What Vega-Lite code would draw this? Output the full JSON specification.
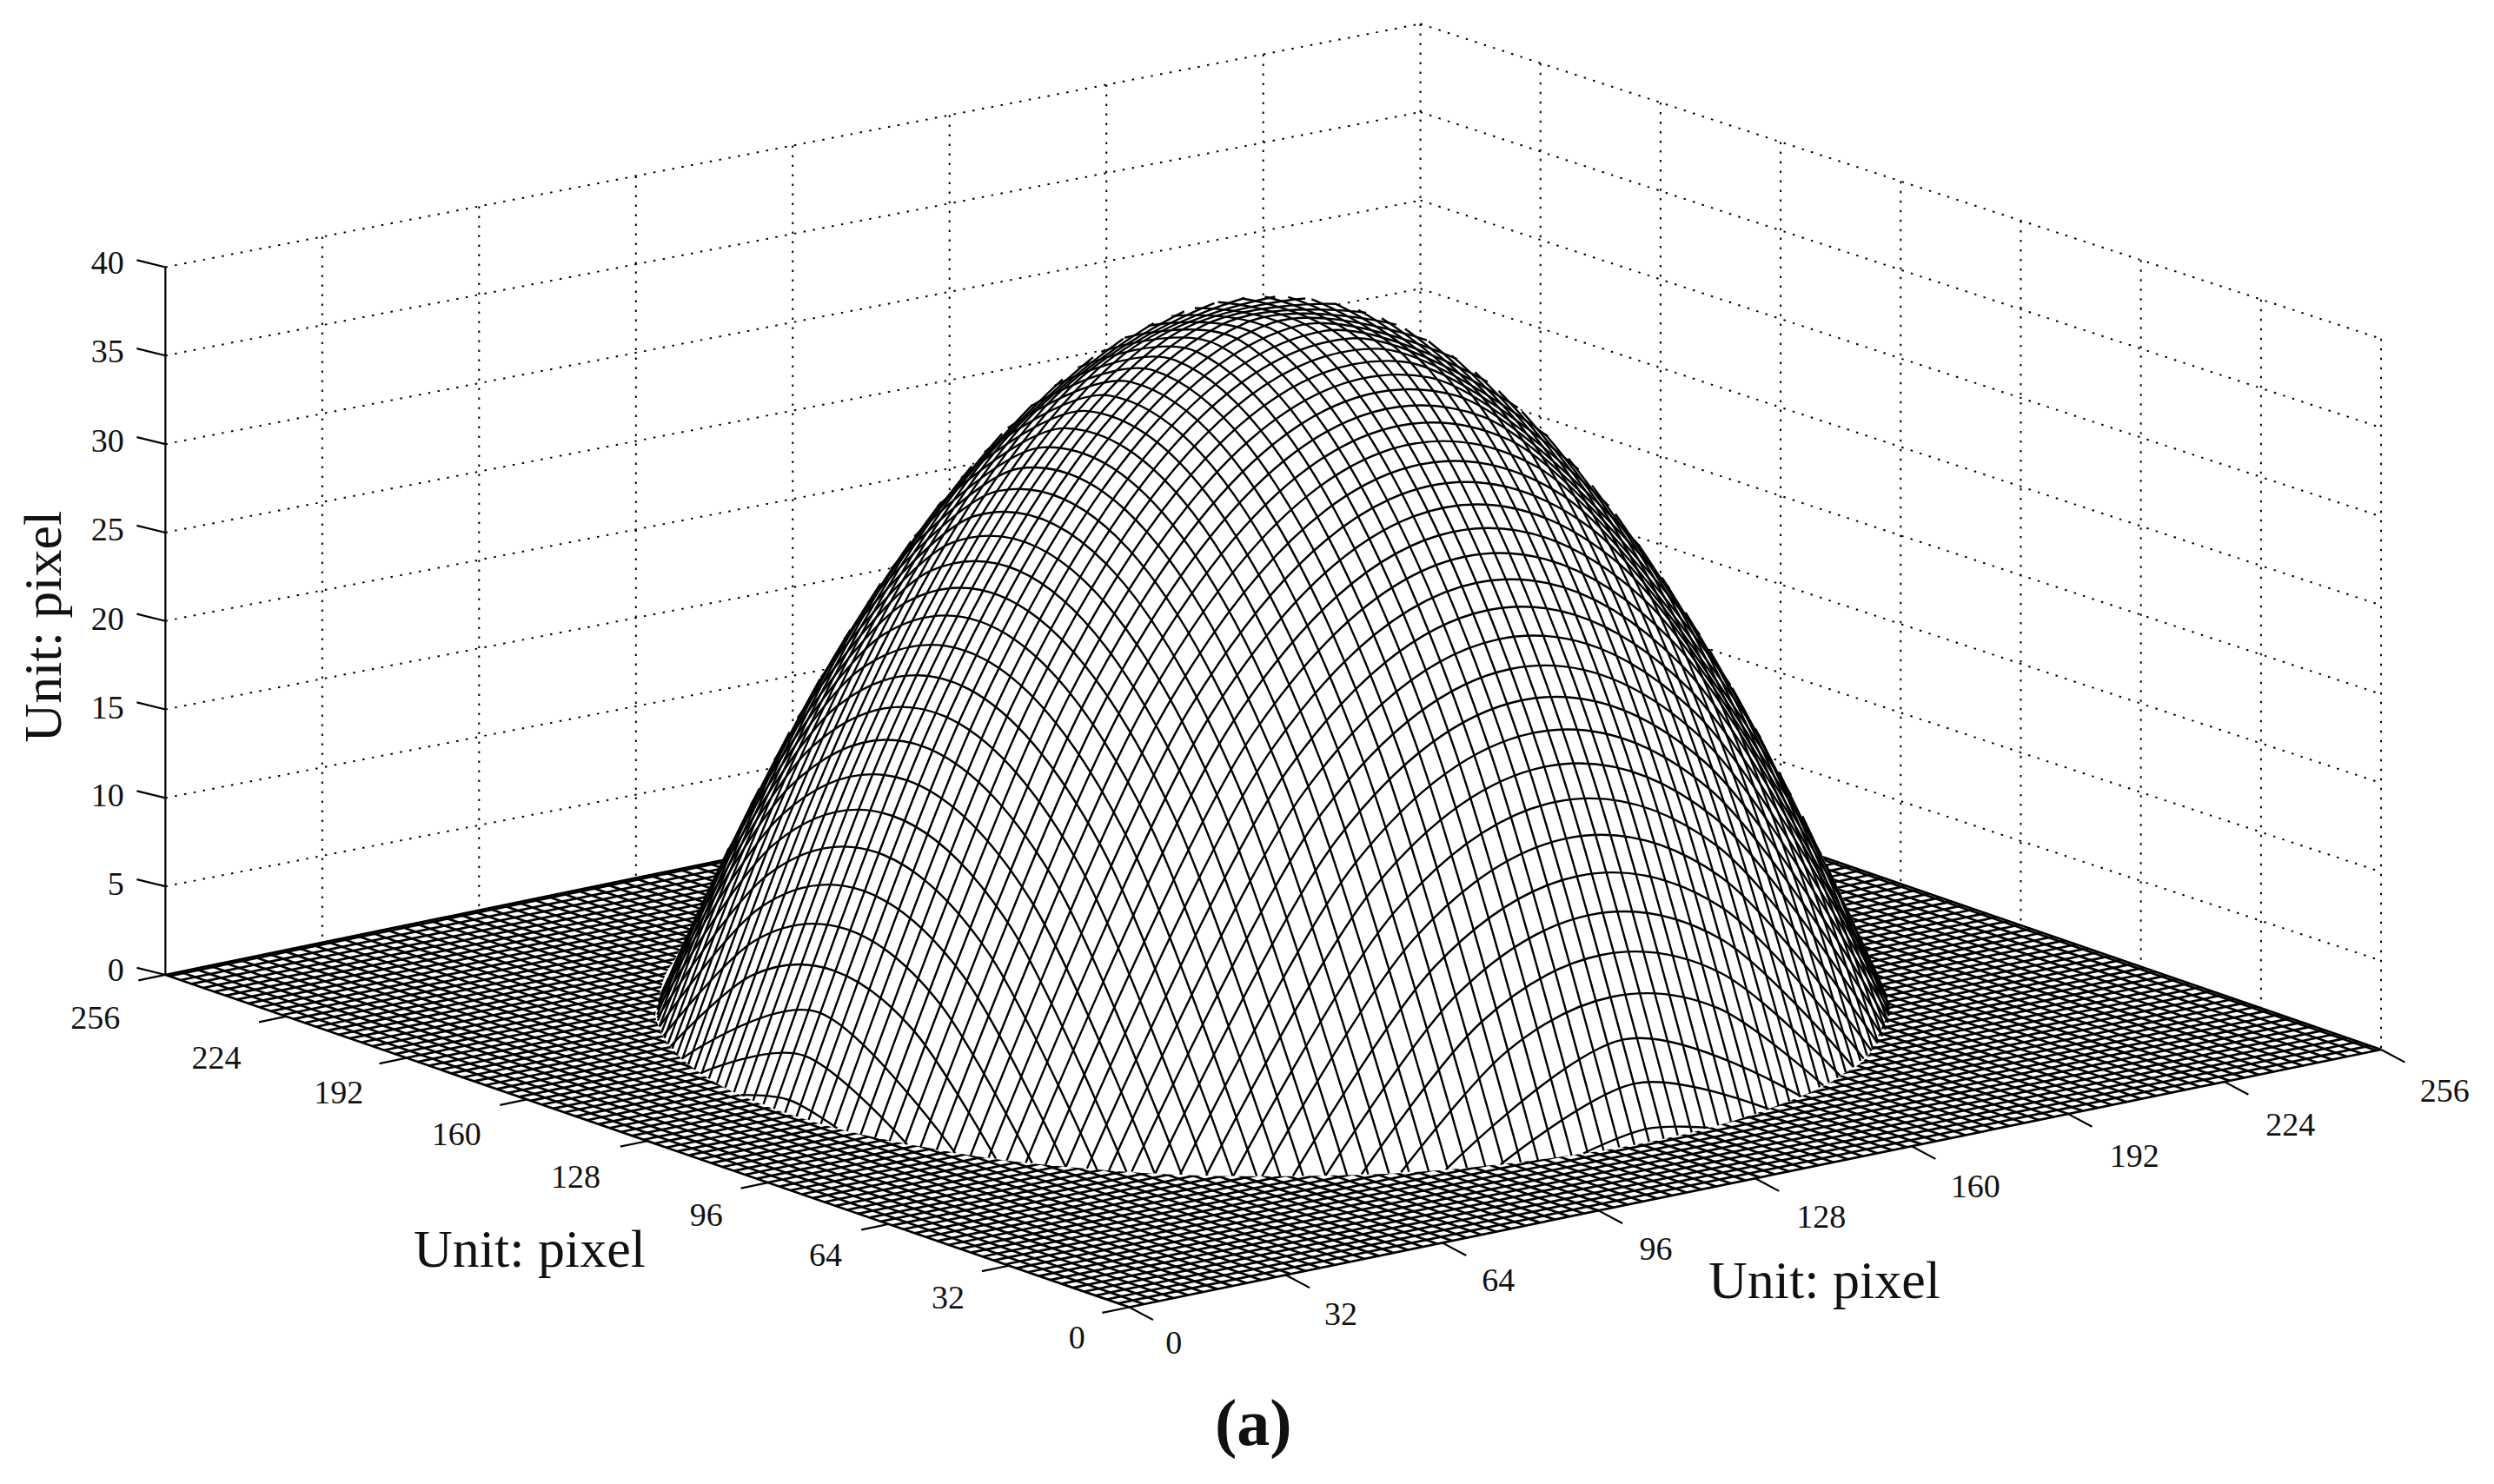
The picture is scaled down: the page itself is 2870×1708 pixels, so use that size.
{
"$schema":"https://vega.github.io/schema/vega-lite/v6.json",
"width":2870,"height":1708,
"autosize":{"type":"fit","contains":"padding"},
"padding":0,
"background":"white",
"config":{"view":{"stroke":null}},
"datasets":{
"walls":[
{"x":104,"y":168,"x2":893,"y2":15},{"x":104,"y":223.6,"x2":893,"y2":70.5},{"x":104,"y":279.3,"x2":893,"y2":126},{"x":104,"y":334.9,"x2":893,"y2":181.5},{"x":104,"y":390.5,"x2":893,"y2":237},{"x":104,"y":446.1,"x2":893,"y2":292.5},{"x":104,"y":501.8,"x2":893,"y2":348},{"x":104,"y":557.4,"x2":893,"y2":403.5},
{"x":893,"y":15,"x2":1497,"y2":213},{"x":893,"y":70.5,"x2":1497,"y2":268.9},{"x":893,"y":126,"x2":1497,"y2":324.8},{"x":893,"y":181.5,"x2":1497,"y2":380.6},{"x":893,"y":237,"x2":1497,"y2":436.5},{"x":893,"y":292.5,"x2":1497,"y2":492.4},{"x":893,"y":348,"x2":1497,"y2":548.3},{"x":893,"y":403.5,"x2":1497,"y2":604.1},
{"x":202.6,"y":148.9,"x2":202.6,"y2":592.8},{"x":301.2,"y":129.8,"x2":301.2,"y2":572.5},{"x":399.8,"y":110.7,"x2":399.8,"y2":552.3},{"x":498.4,"y":91.5,"x2":498.4,"y2":532},{"x":597,"y":72.4,"x2":597,"y2":511.8},{"x":695.6,"y":53.3,"x2":695.6,"y2":491.5},{"x":794.2,"y":34.1,"x2":794.2,"y2":471.3},
{"x":893,"y":15,"x2":893,"y2":455},
{"x":968.5,"y":39.8,"x2":968.5,"y2":477.3},{"x":1044,"y":64.5,"x2":1044,"y2":503.4},{"x":1119.5,"y":89.3,"x2":1119.5,"y2":529.5},{"x":1195,"y":114,"x2":1195,"y2":555.6},{"x":1270.5,"y":138.8,"x2":1270.5,"y2":581.7},{"x":1346,"y":163.5,"x2":1346,"y2":607.8},{"x":1421.5,"y":188.3,"x2":1421.5,"y2":633.9},{"x":1497,"y":213,"x2":1497,"y2":660}
],
"floor":[
{"x":710,"y":822,"x2":104,"y2":613},{"x":719.2,"y":820.1,"x2":113.2,"y2":611.1},{"x":728.4,"y":818.2,"x2":122.4,"y2":609.2},{"x":737.7,"y":816.3,"x2":131.7,"y2":607.3},{"x":746.9,"y":814.4,"x2":140.9,"y2":605.4},{"x":756.1,"y":812.5,"x2":150.1,"y2":603.5},{"x":765.3,"y":810.6,"x2":159.3,"y2":601.6},{"x":774.6,"y":808.7,"x2":168.6,"y2":599.7},{"x":783.8,"y":806.8,"x2":177.8,"y2":597.8},{"x":793,"y":804.9,"x2":187,"y2":595.9},{"x":802.2,"y":803,"x2":196.2,"y2":594},{"x":811.5,"y":801.1,"x2":205.5,"y2":592.1},{"x":820.7,"y":799.2,"x2":214.7,"y2":590.2},{"x":829.9,"y":797.3,"x2":223.9,"y2":588.3},{"x":839.1,"y":795.4,"x2":233.1,"y2":586.4},{"x":848.3,"y":793.5,"x2":242.3,"y2":584.5},{"x":857.6,"y":791.6,"x2":251.6,"y2":582.6},{"x":866.8,"y":789.7,"x2":260.8,"y2":580.7},{"x":876,"y":787.8,"x2":270,"y2":578.8},{"x":885.2,"y":785.9,"x2":279.2,"y2":576.9},{"x":894.5,"y":784,"x2":288.5,"y2":575},{"x":903.7,"y":782.1,"x2":297.7,"y2":573.1},{"x":912.9,"y":780.2,"x2":306.9,"y2":571.2},{"x":922.1,"y":778.3,"x2":316.1,"y2":569.3},{"x":931.3,"y":776.4,"x2":325.3,"y2":567.4},{"x":940.6,"y":774.5,"x2":334.6,"y2":565.5},{"x":949.8,"y":772.6,"x2":343.8,"y2":563.6},{"x":959,"y":770.7,"x2":353,"y2":561.7},{"x":968.2,"y":768.8,"x2":362.2,"y2":559.8},{"x":977.5,"y":766.9,"x2":371.5,"y2":557.9},{"x":986.7,"y":765,"x2":380.7,"y2":556},{"x":995.9,"y":763.1,"x2":389.9,"y2":554.1},{"x":1005.1,"y":761.3,"x2":399.1,"y2":552.3},{"x":1014.3,"y":759.4,"x2":408.3,"y2":550.4},{"x":1023.6,"y":757.5,"x2":417.6,"y2":548.5},{"x":1032.8,"y":755.6,"x2":426.8,"y2":546.6},{"x":1042,"y":753.7,"x2":436,"y2":544.7},{"x":1051.2,"y":751.8,"x2":445.2,"y2":542.8},{"x":1060.5,"y":749.9,"x2":454.5,"y2":540.9},{"x":1069.7,"y":748,"x2":463.7,"y2":539},{"x":1078.9,"y":746.1,"x2":472.9,"y2":537.1},{"x":1088.1,"y":744.2,"x2":482.1,"y2":535.2},{"x":1097.4,"y":742.3,"x2":491.4,"y2":533.3},{"x":1106.6,"y":740.4,"x2":500.6,"y2":531.4},{"x":1115.8,"y":738.5,"x2":509.8,"y2":529.5},{"x":1125,"y":736.6,"x2":519,"y2":527.6},{"x":1134.2,"y":734.7,"x2":528.2,"y2":525.7},{"x":1143.5,"y":732.8,"x2":537.5,"y2":523.8},{"x":1152.7,"y":730.9,"x2":546.7,"y2":521.9},{"x":1161.9,"y":729,"x2":555.9,"y2":520},{"x":1171.1,"y":727.1,"x2":565.1,"y2":518.1},{"x":1180.4,"y":725.2,"x2":574.4,"y2":516.2},{"x":1189.6,"y":723.3,"x2":583.6,"y2":514.3},{"x":1198.8,"y":721.4,"x2":592.8,"y2":512.4},{"x":1208,"y":719.5,"x2":602,"y2":510.5},{"x":1217.2,"y":717.6,"x2":611.2,"y2":508.6},{"x":1226.5,"y":715.7,"x2":620.5,"y2":506.7},{"x":1235.7,"y":713.8,"x2":629.7,"y2":504.8},{"x":1244.9,"y":711.9,"x2":638.9,"y2":502.9},{"x":1254.1,"y":710,"x2":648.1,"y2":501},{"x":1263.4,"y":708.1,"x2":657.4,"y2":499.1},{"x":1272.6,"y":706.2,"x2":666.6,"y2":497.2},{"x":1281.8,"y":704.3,"x2":675.8,"y2":495.3},{"x":1291,"y":702.4,"x2":685,"y2":493.4},{"x":1300.3,"y":700.5,"x2":694.3,"y2":491.5},{"x":1309.5,"y":698.6,"x2":703.5,"y2":489.6},{"x":1318.7,"y":696.7,"x2":712.7,"y2":487.7},{"x":1327.9,"y":694.8,"x2":721.9,"y2":485.8},{"x":1337.1,"y":692.9,"x2":731.1,"y2":483.9},{"x":1346.4,"y":691,"x2":740.4,"y2":482},{"x":1355.6,"y":689.1,"x2":749.6,"y2":480.1},{"x":1364.8,"y":687.2,"x2":758.8,"y2":478.2},{"x":1374,"y":685.3,"x2":768,"y2":476.3},{"x":1383.3,"y":683.4,"x2":777.3,"y2":474.4},{"x":1392.5,"y":681.5,"x2":786.5,"y2":472.5},{"x":1401.7,"y":679.6,"x2":795.7,"y2":470.6},{"x":1410.9,"y":677.7,"x2":804.9,"y2":468.7},{"x":1420.1,"y":675.8,"x2":814.1,"y2":466.8},{"x":1429.4,"y":673.9,"x2":823.4,"y2":464.9},{"x":1438.6,"y":672,"x2":832.6,"y2":463},{"x":1447.8,"y":670.1,"x2":841.8,"y2":461.1},{"x":1457,"y":668.2,"x2":851,"y2":459.2},{"x":1466.3,"y":666.3,"x2":860.3,"y2":457.3},{"x":1475.5,"y":664.4,"x2":869.5,"y2":455.4},{"x":1484.7,"y":662.5,"x2":878.7,"y2":453.5},{"x":1493.9,"y":660.6,"x2":887.9,"y2":451.6},{"x":1497,"y":660,"x2":891,"y2":451},
{"x":710,"y":822,"x2":1497,"y2":660},{"x":702.9,"y":819.6,"x2":1489.9,"y2":657.6},{"x":695.8,"y":817.1,"x2":1482.8,"y2":655.1},{"x":688.7,"y":814.7,"x2":1475.7,"y2":652.7},{"x":681.6,"y":812.2,"x2":1468.6,"y2":650.2},{"x":674.5,"y":809.8,"x2":1461.5,"y2":647.8},{"x":667.4,"y":807.3,"x2":1454.4,"y2":645.3},{"x":660.3,"y":804.9,"x2":1447.3,"y2":642.9},{"x":653.2,"y":802.4,"x2":1440.2,"y2":640.4},{"x":646.1,"y":800,"x2":1433.1,"y2":638},{"x":639,"y":797.5,"x2":1426,"y2":635.5},{"x":631.9,"y":795.1,"x2":1418.9,"y2":633.1},{"x":624.8,"y":792.6,"x2":1411.8,"y2":630.6},{"x":617.7,"y":790.2,"x2":1404.7,"y2":628.2},{"x":610.6,"y":787.7,"x2":1397.6,"y2":625.7},{"x":603.5,"y":785.3,"x2":1390.5,"y2":623.3},{"x":596.4,"y":782.8,"x2":1383.4,"y2":620.8},{"x":589.3,"y":780.4,"x2":1376.3,"y2":618.4},{"x":582.2,"y":777.9,"x2":1369.2,"y2":615.9},{"x":575.1,"y":775.5,"x2":1362.1,"y2":613.5},{"x":568,"y":773,"x2":1355,"y2":611},{"x":560.9,"y":770.6,"x2":1347.9,"y2":608.6},{"x":553.8,"y":768.1,"x2":1340.8,"y2":606.1},{"x":546.7,"y":765.7,"x2":1333.7,"y2":603.7},{"x":539.6,"y":763.2,"x2":1326.6,"y2":601.2},{"x":532.5,"y":760.8,"x2":1319.5,"y2":598.8},{"x":525.4,"y":758.3,"x2":1312.4,"y2":596.3},{"x":518.3,"y":755.9,"x2":1305.3,"y2":593.9},{"x":511.2,"y":753.4,"x2":1298.2,"y2":591.4},{"x":504.1,"y":751,"x2":1291.1,"y2":589},{"x":497,"y":748.5,"x2":1284,"y2":586.5},{"x":489.9,"y":746.1,"x2":1276.9,"y2":584.1},{"x":482.7,"y":743.6,"x2":1269.7,"y2":581.6},{"x":475.6,"y":741.2,"x2":1262.6,"y2":579.2},{"x":468.5,"y":738.7,"x2":1255.5,"y2":576.7},{"x":461.4,"y":736.3,"x2":1248.4,"y2":574.3},{"x":454.3,"y":733.8,"x2":1241.3,"y2":571.8},{"x":447.2,"y":731.4,"x2":1234.2,"y2":569.4},{"x":440.1,"y":728.9,"x2":1227.1,"y2":566.9},{"x":433,"y":726.5,"x2":1220,"y2":564.5},{"x":425.9,"y":724,"x2":1212.9,"y2":562},{"x":418.8,"y":721.6,"x2":1205.8,"y2":559.6},{"x":411.7,"y":719.1,"x2":1198.7,"y2":557.1},{"x":404.6,"y":716.7,"x2":1191.6,"y2":554.7},{"x":397.5,"y":714.2,"x2":1184.5,"y2":552.2},{"x":390.4,"y":711.8,"x2":1177.4,"y2":549.8},{"x":383.3,"y":709.3,"x2":1170.3,"y2":547.3},{"x":376.2,"y":706.9,"x2":1163.2,"y2":544.9},{"x":369.1,"y":704.4,"x2":1156.1,"y2":542.4},{"x":362,"y":702,"x2":1149,"y2":540},{"x":354.9,"y":699.5,"x2":1141.9,"y2":537.5},{"x":347.8,"y":697.1,"x2":1134.8,"y2":535.1},{"x":340.7,"y":694.6,"x2":1127.7,"y2":532.6},{"x":333.6,"y":692.2,"x2":1120.6,"y2":530.2},{"x":326.5,"y":689.7,"x2":1113.5,"y2":527.7},{"x":319.4,"y":687.3,"x2":1106.4,"y2":525.3},{"x":312.3,"y":684.8,"x2":1099.3,"y2":522.8},{"x":305.2,"y":682.4,"x2":1092.2,"y2":520.4},{"x":298.1,"y":679.9,"x2":1085.1,"y2":517.9},{"x":291,"y":677.5,"x2":1078,"y2":515.5},{"x":283.9,"y":675,"x2":1070.9,"y2":513},{"x":276.8,"y":672.6,"x2":1063.8,"y2":510.6},{"x":269.7,"y":670.1,"x2":1056.7,"y2":508.1},{"x":262.6,"y":667.7,"x2":1049.6,"y2":505.7},{"x":255.5,"y":665.2,"x2":1042.5,"y2":503.2},{"x":248.4,"y":662.8,"x2":1035.4,"y2":500.8},{"x":241.3,"y":660.4,"x2":1028.3,"y2":498.4},{"x":234.2,"y":657.9,"x2":1021.2,"y2":495.9},{"x":227.1,"y":655.5,"x2":1014.1,"y2":493.5},{"x":220,"y":653,"x2":1007,"y2":491},{"x":212.9,"y":650.6,"x2":999.9,"y2":488.6},{"x":205.8,"y":648.1,"x2":992.8,"y2":486.1},{"x":198.7,"y":645.7,"x2":985.7,"y2":483.7},{"x":191.6,"y":643.2,"x2":978.6,"y2":481.2},{"x":184.5,"y":640.8,"x2":971.5,"y2":478.8},{"x":177.4,"y":638.3,"x2":964.4,"y2":476.3},{"x":170.3,"y":635.9,"x2":957.3,"y2":473.9},{"x":163.2,"y":633.4,"x2":950.2,"y2":471.4},{"x":156.1,"y":631,"x2":943.1,"y2":469},{"x":149,"y":628.5,"x2":936,"y2":466.5},{"x":141.9,"y":626.1,"x2":928.9,"y2":464.1},{"x":134.8,"y":623.6,"x2":921.8,"y2":461.6},{"x":127.7,"y":621.2,"x2":914.7,"y2":459.2},{"x":120.6,"y":618.7,"x2":907.6,"y2":456.7},{"x":113.5,"y":616.3,"x2":900.5,"y2":454.3},{"x":106.4,"y":613.8,"x2":893.4,"y2":451.8},{"x":104,"y":613,"x2":891,"y2":451}
],
"dome":[
{"x":412,"y":638,"y2":640},{"x":416,"y":620,"y2":650},{"x":425,"y":602,"y2":662},{"x":440,"y":571.7,"y2":674.5},{"x":472,"y":506,"y2":691.5},{"x":511,"y":434.4,"y2":705.4},{"x":550,"y":371.9,"y2":715.2},{"x":590,"y":318,"y2":723},{"x":629,"y":273.9,"y2":729.3},{"x":668,"y":238.7,"y2":733.5},{"x":707,"y":212.4,"y2":736.8},{"x":746,"y":195.2,"y2":739},{"x":785,"y":187.3,"y2":739.7},{"x":805,"y":186.6,"y2":739.7},{"x":844,"y":192.1,"y2":739},{"x":884,"y":207,"y2":737.4},{"x":922,"y":230.4,"y2":734.4},{"x":962,"y":263.3,"y2":730},{"x":1001,"y":305.2,"y2":724.5},{"x":1040,"y":356.2,"y2":717.5},{"x":1079,"y":416.2,"y2":708},{"x":1118,"y":485.3,"y2":695},{"x":1158,"y":563.5,"y2":676},{"x":1177,"y":606,"y2":660},{"x":1186,"y":628,"y2":640},{"x":1188,"y":637,"y2":637}
],
"mesh":[
{"l":"a-33","x":526.4,"y":709.5},{"l":"a-33","x":496.1,"y":691.7},{"l":"a-33","x":465.8,"y":688.5},
{"l":"a-32","x":570.4,"y":719.7},{"l":"a-32","x":505.4,"y":663.8},{"l":"a-32","x":440.4,"y":674.9},
{"l":"a-31","x":600.6,"y":725.1},{"l":"a-31","x":514.6,"y":636.6},{"l":"a-31","x":428.6,"y":665.7},
{"l":"a-30","x":626.1,"y":728.6},{"l":"a-30","x":574.9,"y":648.6},{"l":"a-30","x":523.8,"y":610.2},{"l":"a-30","x":472.7,"y":613.4},{"l":"a-30","x":421.5,"y":658},
{"l":"a-29","x":648.9,"y":731.4},{"l":"a-29","x":591,"y":631.3},{"l":"a-29","x":533,"y":584.6},{"l":"a-29","x":475,"y":591.3},{"l":"a-29","x":417.1,"y":651.4},
{"l":"a-28","x":670,"y":733.8},{"l":"a-28","x":606.2,"y":614.5},{"l":"a-28","x":542.3,"y":560},{"l":"a-28","x":478.4,"y":570.4},{"l":"a-28","x":414.6,"y":645.6},
{"l":"a-27","x":689.7,"y":735.5},{"l":"a-27","x":620.6,"y":597.9},{"l":"a-27","x":551.5,"y":536.1},{"l":"a-27","x":482.4,"y":550.3},{"l":"a-27","x":413.3,"y":640},
{"l":"a-26","x":708.2,"y":736.8},{"l":"a-26","x":634.5,"y":581.5},{"l":"a-26","x":560.7,"y":512.9},{"l":"a-26","x":486.9,"y":530.7},{"l":"a-26","x":413.2,"y":635},
{"l":"a-25","x":725.9,"y":737.7},{"l":"a-25","x":647.9,"y":565.9},{"l":"a-25","x":569.9,"y":490.6},{"l":"a-25","x":491.9,"y":512.1},{"l":"a-25","x":413.9,"y":630.1},
{"l":"a-24","x":742.9,"y":738.6},{"l":"a-24","x":661.1,"y":550.6},{"l":"a-24","x":579.2,"y":469},{"l":"a-24","x":497.3,"y":494},{"l":"a-24","x":415.5,"y":625.6},
{"l":"a-23","x":759.2,"y":739.1},{"l":"a-23","x":676.5,"y":540.3},{"l":"a-23","x":593.6,"y":450.3},{"l":"a-23","x":510.8,"y":469.4},{"l":"a-23","x":428,"y":597.5},
{"l":"a-22","x":775,"y":739.5},{"l":"a-22","x":691.9,"y":531.4},{"l":"a-22","x":608.8,"y":433.2},{"l":"a-22","x":525.7,"y":444.6},{"l":"a-22","x":442.6,"y":565.8},
{"l":"a-21","x":790.1,"y":739.5},{"l":"a-21","x":706.9,"y":523.3},{"l":"a-21","x":623.7,"y":417.3},{"l":"a-21","x":540.4,"y":421.3},{"l":"a-21","x":457.3,"y":535.3},
{"l":"a-20","x":804.9,"y":739.7},{"l":"a-20","x":721.7,"y":516},{"l":"a-20","x":638.4,"y":402.5},{"l":"a-20","x":555.2,"y":399.2},{"l":"a-20","x":472,"y":506},
{"l":"a-19","x":819.3,"y":739.4},{"l":"a-19","x":736.2,"y":509.2},{"l":"a-19","x":653,"y":389},{"l":"a-19","x":569.9,"y":378.6},{"l":"a-19","x":486.8,"y":478},
{"l":"a-18","x":833.3,"y":739.2},{"l":"a-18","x":750.3,"y":503.1},{"l":"a-18","x":667.4,"y":376.5},{"l":"a-18","x":584.3,"y":359.3},{"l":"a-18","x":501.4,"y":451.6},
{"l":"a-17","x":846.9,"y":739},{"l":"a-17","x":764.2,"y":497.7},{"l":"a-17","x":681.5,"y":365},{"l":"a-17","x":598.8,"y":341.2},{"l":"a-17","x":516.1,"y":426.2},
{"l":"a-16","x":860.2,"y":738.5},{"l":"a-16","x":777.8,"y":492.6},{"l":"a-16","x":695.5,"y":354.6},{"l":"a-16","x":613.1,"y":324.4},{"l":"a-16","x":530.7,"y":402},
{"l":"a-15","x":873.2,"y":737.8},{"l":"a-15","x":791.3,"y":488.1},{"l":"a-15","x":709.4,"y":345.2},{"l":"a-15","x":627.4,"y":308.8},{"l":"a-15","x":545.5,"y":379.2},
{"l":"a-14","x":885.8,"y":736.9},{"l":"a-14","x":804.3,"y":484.1},{"l":"a-14","x":722.9,"y":336.6},{"l":"a-14","x":641.5,"y":294.5},{"l":"a-14","x":560.1,"y":357.7},
{"l":"a-13","x":898.2,"y":736.5},{"l":"a-13","x":817.3,"y":480.8},{"l":"a-13","x":736.5,"y":329.1},{"l":"a-13","x":655.7,"y":281.3},{"l":"a-13","x":574.8,"y":337.4},
{"l":"a-12","x":910.2,"y":735.3},{"l":"a-12","x":830,"y":477.7},{"l":"a-12","x":749.9,"y":322.4},{"l":"a-12","x":669.7,"y":269.3},{"l":"a-12","x":589.5,"y":318.3},
{"l":"a-11","x":922.2,"y":734.4},{"l":"a-11","x":842.7,"y":475.4},{"l":"a-11","x":763.3,"y":316.8},{"l":"a-11","x":683.8,"y":258.5},{"l":"a-11","x":604.3,"y":300.6},
{"l":"a-10","x":933.8,"y":733.4},{"l":"a-10","x":855.1,"y":473.4},{"l":"a-10","x":776.4,"y":311.9},{"l":"a-10","x":697.7,"y":248.8},{"l":"a-10","x":618.9,"y":284.3},
{"l":"a-9","x":945,"y":732.1},{"l":"a-9","x":867.2,"y":471.8},{"l":"a-9","x":789.4,"y":308},{"l":"a-9","x":711.4,"y":240.3},{"l":"a-9","x":633.6,"y":269.1},
{"l":"a-8","x":956.1,"y":730.9},{"l":"a-8","x":879.2,"y":470.7},{"l":"a-8","x":802.3,"y":304.9},{"l":"a-8","x":725.3,"y":232.9},{"l":"a-8","x":648.3,"y":255.3},
{"l":"a-7","x":966.9,"y":729.4},{"l":"a-7","x":890.9,"y":469.9},{"l":"a-7","x":815,"y":302.4},{"l":"a-7","x":738.9,"y":226.5},{"l":"a-7","x":663,"y":242.6},
{"l":"a-6","x":977.7,"y":728},{"l":"a-6","x":902.7,"y":469.7},{"l":"a-6","x":827.7,"y":300.8},{"l":"a-6","x":752.7,"y":221.3},{"l":"a-6","x":677.7,"y":231.2},
{"l":"a-5","x":988.1,"y":726.7},{"l":"a-5","x":914.1,"y":469.9},{"l":"a-5","x":840.3,"y":300.2},{"l":"a-5","x":766.3,"y":217.2},{"l":"a-5","x":692.4,"y":221.2},
{"l":"a-4","x":998.2,"y":725},{"l":"a-4","x":925.4,"y":470.5},{"l":"a-4","x":852.6,"y":300.2},{"l":"a-4","x":779.9,"y":214.2},{"l":"a-4","x":707.1,"y":212.4},
{"l":"a-3","x":1008.2,"y":723.5},{"l":"a-3","x":936.6,"y":471.6},{"l":"a-3","x":865,"y":301.2},{"l":"a-3","x":793.3,"y":212.3},{"l":"a-3","x":721.8,"y":204.9},
{"l":"a-2","x":1018,"y":721.5},{"l":"a-2","x":947.6,"y":472.8},{"l":"a-2","x":877.3,"y":302.7},{"l":"a-2","x":806.8,"y":211.3},{"l":"a-2","x":736.5,"y":198.8},
{"l":"a-1","x":1027.6,"y":720},{"l":"a-1","x":958.4,"y":474.4},{"l":"a-1","x":889.4,"y":305.1},{"l":"a-1","x":820.3,"y":211.5},{"l":"a-1","x":751.2,"y":193.8},
{"l":"a0","x":1036.8,"y":718},{"l":"a0","x":969,"y":476.4},{"l":"a0","x":901.3,"y":308.1},{"l":"a0","x":833.6,"y":212.6},{"l":"a0","x":765.8,"y":190},
{"l":"a1","x":1046,"y":716.2},{"l":"a1","x":979.6,"y":479},{"l":"a1","x":913.3,"y":312},{"l":"a1","x":846.9,"y":214.8},{"l":"a1","x":780.5,"y":187.7},
{"l":"a2","x":1054.8,"y":714},{"l":"a2","x":989.9,"y":481.8},{"l":"a2","x":925,"y":316.3},{"l":"a2","x":860.1,"y":218},{"l":"a2","x":795.2,"y":186.6},
{"l":"a3","x":1063.6,"y":712.1},{"l":"a3","x":1000.2,"y":484.7},{"l":"a3","x":936.8,"y":321.7},{"l":"a3","x":873.4,"y":222.2},{"l":"a3","x":809.9,"y":186.8},
{"l":"a4","x":1072,"y":709.8},{"l":"a4","x":1010.2,"y":488.3},{"l":"a4","x":948.4,"y":327.5},{"l":"a4","x":886.5,"y":227.5},{"l":"a4","x":824.6,"y":188.2},
{"l":"a5","x":1080.3,"y":707.7},{"l":"a5","x":1020.1,"y":492},{"l":"a5","x":959.8,"y":334},{"l":"a5","x":899.5,"y":233.6},{"l":"a5","x":839.3,"y":190.9},
{"l":"a6","x":1088.3,"y":705.2},{"l":"a6","x":1029.7,"y":495.7},{"l":"a6","x":971.1,"y":341},{"l":"a6","x":912.5,"y":240.7},{"l":"a6","x":854,"y":194.9},
{"l":"a7","x":1096.1,"y":702.8},{"l":"a7","x":1039.2,"y":499.9},{"l":"a7","x":982.4,"y":348.7},{"l":"a7","x":925.5,"y":248.6},{"l":"a7","x":868.7,"y":200.1},
{"l":"a8","x":1103.7,"y":700.5},{"l":"a8","x":1048.6,"y":504.7},{"l":"a8","x":993.6,"y":357.3},{"l":"a8","x":938.5,"y":257.9},{"l":"a8","x":883.4,"y":206.8},
{"l":"a9","x":1111,"y":697.9},{"l":"a9","x":1057.8,"y":509.6},{"l":"a9","x":1004.6,"y":366.3},{"l":"a9","x":951.3,"y":267.8},{"l":"a9","x":898.1,"y":214.6},
{"l":"a10","x":1118.2,"y":695.4},{"l":"a10","x":1066.8,"y":514.7},{"l":"a10","x":1015.5,"y":375.9},{"l":"a10","x":964.1,"y":278.7},{"l":"a10","x":912.8,"y":223.7},
{"l":"a11","x":1125,"y":692.6},{"l":"a11","x":1075.6,"y":519.7},{"l":"a11","x":1026.2,"y":385.9},{"l":"a11","x":976.8,"y":290.5},{"l":"a11","x":927.4,"y":234.1},
{"l":"a12","x":1131.6,"y":689.8},{"l":"a12","x":1084.3,"y":525.4},{"l":"a12","x":1036.9,"y":396.3},{"l":"a12","x":989.5,"y":303.2},{"l":"a12","x":942.2,"y":245.8},
{"l":"a13","x":1138,"y":687.1},{"l":"a13","x":1092.7,"y":531.1},{"l":"a13","x":1047.5,"y":407.8},{"l":"a13","x":1002.1,"y":316.9},{"l":"a13","x":956.9,"y":258.8},
{"l":"a14","x":1144,"y":683.7},{"l":"a14","x":1100.9,"y":536.8},{"l":"a14","x":1057.8,"y":419.4},{"l":"a14","x":1014.6,"y":331.3},{"l":"a14","x":971.5,"y":273},
{"l":"a15","x":1149.8,"y":680.8},{"l":"a15","x":1108.9,"y":542.8},{"l":"a15","x":1068,"y":431.3},{"l":"a15","x":1027.1,"y":346.5},{"l":"a15","x":986.1,"y":288.3},
{"l":"a16","x":1155.4,"y":677.8},{"l":"a16","x":1116.7,"y":549.1},{"l":"a16","x":1078.2,"y":444.2},{"l":"a16","x":1039.6,"y":362.8},{"l":"a16","x":1000.9,"y":305.2},
{"l":"a17","x":1160.5,"y":674.4},{"l":"a17","x":1124.3,"y":555.5},{"l":"a17","x":1088.1,"y":457.1},{"l":"a17","x":1051.9,"y":379.8},{"l":"a17","x":1015.6,"y":323.2},
{"l":"a18","x":1165.3,"y":670.8},{"l":"a18","x":1131.5,"y":561.6},{"l":"a18","x":1097.8,"y":470.6},{"l":"a18","x":1064,"y":397.4},{"l":"a18","x":1030.3,"y":342.6},
{"l":"a19","x":1169.7,"y":667.2},{"l":"a19","x":1138.5,"y":567.8},{"l":"a19","x":1107.3,"y":484.2},{"l":"a19","x":1076.1,"y":415.8},{"l":"a19","x":1044.9,"y":363.1},
{"l":"a20","x":1173.9,"y":663.8},{"l":"a20","x":1145.4,"y":574.7},{"l":"a20","x":1116.8,"y":498.5},{"l":"a20","x":1088.3,"y":435.3},{"l":"a20","x":1059.7,"y":385.1},
{"l":"a21","x":1177.5,"y":659.7},{"l":"a21","x":1151.8,"y":581},{"l":"a21","x":1126,"y":513},{"l":"a21","x":1100.2,"y":455.1},{"l":"a21","x":1074.4,"y":408.2},
{"l":"a22","x":1180.8,"y":655.9},{"l":"a22","x":1157.8,"y":587.6},{"l":"a22","x":1134.9,"y":527.6},{"l":"a22","x":1112,"y":476},{"l":"a22","x":1089.1,"y":432.7},
{"l":"a23","x":1183.4,"y":651.7},{"l":"a23","x":1143.6,"y":542.4},{"l":"a23","x":1103.7,"y":458.3},
{"l":"a24","x":1185.5,"y":647.4},{"l":"a24","x":1152,"y":557.5},{"l":"a24","x":1118.4,"y":485.3},
{"l":"a25","x":1187.1,"y":642.7},{"l":"a25","x":1160.2,"y":572.5},{"l":"a25","x":1133.2,"y":513.2},
{"l":"a26","x":1187.8,"y":638},{"l":"a26","x":1167.8,"y":587.4},{"l":"a26","x":1147.9,"y":543.2},
{"l":"a27","x":1187.7,"y":632.9},{"l":"a27","x":1175.1,"y":602.1},{"l":"a27","x":1162.5,"y":574.9},
{"l":"a28","x":1186.4,"y":627.5},{"l":"a28","x":1177.2,"y":606.1},
{"l":"b-33","x":995.5,"y":725.3},{"l":"b-33","x":1034.9,"y":709.9},{"l":"b-33","x":1074.3,"y":709.1},
{"l":"b-32","x":943.4,"y":732.3},{"l":"b-32","x":1027.8,"y":681.4},{"l":"b-32","x":1112.2,"y":697.5},
{"l":"b-31","x":909,"y":735.5},{"l":"b-31","x":1020.7,"y":653.7},{"l":"b-31","x":1132.4,"y":689.5},
{"l":"b-30","x":880.8,"y":737.2},{"l":"b-30","x":947.2,"y":661.3},{"l":"b-30","x":1013.6,"y":626.8},{"l":"b-30","x":1080,"y":633.9},{"l":"b-30","x":1146.4,"y":682.6},
{"l":"b-29","x":856,"y":738.4},{"l":"b-29","x":931.2,"y":642.8},{"l":"b-29","x":1006.5,"y":600.6},{"l":"b-29","x":1081.8,"y":611.8},{"l":"b-29","x":1157,"y":676.4},
{"l":"b-28","x":833.5,"y":739.2},{"l":"b-28","x":916.4,"y":625},{"l":"b-28","x":999.4,"y":575.4},{"l":"b-28","x":1082.4,"y":590.8},{"l":"b-28","x":1165.3,"y":671},
{"l":"b-27","x":812.9,"y":739.5},{"l":"b-27","x":902.5,"y":607.4},{"l":"b-27","x":992.3,"y":550.9},{"l":"b-27","x":1082.1,"y":570.4},{"l":"b-27","x":1171.7,"y":665.7},
{"l":"b-26","x":793.5,"y":739.6},{"l":"b-26","x":889.3,"y":590.1},{"l":"b-26","x":985.1,"y":527.2},{"l":"b-26","x":1080.9,"y":550.7},{"l":"b-26","x":1176.7,"y":660.8},
{"l":"b-25","x":775.5,"y":739.3},{"l":"b-25","x":876.7,"y":573.6},{"l":"b-25","x":978,"y":504.3},{"l":"b-25","x":1079.3,"y":531.8},{"l":"b-25","x":1180.5,"y":655.9},
{"l":"b-24","x":758.3,"y":739.1},{"l":"b-24","x":864.5,"y":557.4},{"l":"b-24","x":970.9,"y":482.2},{"l":"b-24","x":1077.3,"y":513.6},{"l":"b-24","x":1183.5,"y":651.5},
{"l":"b-23","x":742,"y":738.5},{"l":"b-23","x":852.9,"y":541.7},{"l":"b-23","x":963.8,"y":460.9},{"l":"b-23","x":1074.7,"y":496.1},{"l":"b-23","x":1185.6,"y":647.1},
{"l":"b-22","x":726.4,"y":737.8},{"l":"b-22","x":841.5,"y":526.7},{"l":"b-22","x":956.7,"y":440.4},{"l":"b-22","x":1071.9,"y":479.3},{"l":"b-22","x":1187,"y":643},
{"l":"b-21","x":711.5,"y":736.8},{"l":"b-21","x":830.6,"y":512},{"l":"b-21","x":949.6,"y":420.7},{"l":"b-21","x":1068.6,"y":463},{"l":"b-21","x":1187.7,"y":638.8},
{"l":"b-20","x":697.2,"y":736.1},{"l":"b-20","x":819.8,"y":498.2},{"l":"b-20","x":942.5,"y":401.9},{"l":"b-20","x":1065.2,"y":447.6},{"l":"b-20","x":1187.8,"y":635.1},
{"l":"b-19","x":683.4,"y":734.8},{"l":"b-19","x":809.4,"y":484.5},{"l":"b-19","x":935.4,"y":383.7},{"l":"b-19","x":1061.4,"y":432.7},{"l":"b-19","x":1187.4,"y":631},
{"l":"b-18","x":670.2,"y":733.6},{"l":"b-18","x":799.2,"y":471.7},{"l":"b-18","x":928.3,"y":366.5},{"l":"b-18","x":1057.4,"y":418.5},{"l":"b-18","x":1186.4,"y":627.4},
{"l":"b-17","x":657.3,"y":732.5},{"l":"b-17","x":788.8,"y":460},{"l":"b-17","x":920.2,"y":350.2},{"l":"b-17","x":1051.8,"y":403.5},{"l":"b-17","x":1183.2,"y":619.8},
{"l":"b-16","x":644.9,"y":731.2},{"l":"b-16","x":774.7,"y":454.7},{"l":"b-16","x":904.5,"y":336.7},{"l":"b-16","x":1034.4,"y":377.7},{"l":"b-16","x":1164.1,"y":577.4},
{"l":"b-15","x":633,"y":729.6},{"l":"b-15","x":761,"y":449.8},{"l":"b-15","x":889,"y":324.6},{"l":"b-15","x":1017.1,"y":353.8},{"l":"b-15","x":1145.1,"y":537.5},
{"l":"b-14","x":621.5,"y":728},{"l":"b-14","x":747.7,"y":445.9},{"l":"b-14","x":873.7,"y":314},{"l":"b-14","x":999.9,"y":331.9},{"l":"b-14","x":1126,"y":499.9},
{"l":"b-13","x":610.2,"y":726.7},{"l":"b-13","x":734.4,"y":442.9},{"l":"b-13","x":858.5,"y":304.7},{"l":"b-13","x":982.7,"y":311.7},{"l":"b-13","x":1106.9,"y":464},
{"l":"b-12","x":599.4,"y":724.8},{"l":"b-12","x":721.5,"y":440.4},{"l":"b-12","x":843.6,"y":296.6},{"l":"b-12","x":965.8,"y":293.3},{"l":"b-12","x":1087.9,"y":430.6},
{"l":"b-11","x":588.9,"y":723.1},{"l":"b-11","x":708.9,"y":438.5},{"l":"b-11","x":828.8,"y":289.9},{"l":"b-11","x":948.8,"y":276.6},{"l":"b-11","x":1068.7,"y":399.1},
{"l":"b-10","x":578.7,"y":721.4},{"l":"b-10","x":696.4,"y":437.6},{"l":"b-10","x":814.2,"y":284.4},{"l":"b-10","x":932,"y":261.9},{"l":"b-10","x":1049.7,"y":370},
{"l":"b-9","x":568.9,"y":719.3},{"l":"b-9","x":684.4,"y":436.9},{"l":"b-9","x":799.7,"y":280},{"l":"b-9","x":915.2,"y":248.7},{"l":"b-9","x":1030.7,"y":343.1},
{"l":"b-8","x":559.3,"y":717.5},{"l":"b-8","x":672.4,"y":437.1},{"l":"b-8","x":785.4,"y":277},{"l":"b-8","x":898.5,"y":237.3},{"l":"b-8","x":1011.5,"y":318.2},
{"l":"b-7","x":550.2,"y":715.3},{"l":"b-7","x":660.7,"y":437.4},{"l":"b-7","x":771.3,"y":274.8},{"l":"b-7","x":881.9,"y":227.4},{"l":"b-7","x":992.5,"y":295.3},
{"l":"b-6","x":541.2,"y":713.2},{"l":"b-6","x":649.2,"y":438.7},{"l":"b-6","x":757.3,"y":274},{"l":"b-6","x":865.4,"y":219.3},{"l":"b-6","x":973.3,"y":274.7},
{"l":"b-5","x":532.5,"y":711.3},{"l":"b-5","x":638,"y":440.1},{"l":"b-5","x":743.4,"y":274.2},{"l":"b-5","x":848.9,"y":212.8},{"l":"b-5","x":954.3,"y":256.4},
{"l":"b-4","x":524.2,"y":709},{"l":"b-4","x":627,"y":442.5},{"l":"b-4","x":729.7,"y":275.5},{"l":"b-4","x":832.5,"y":208.1},{"l":"b-4","x":935.3,"y":240.1},
{"l":"b-3","x":516.1,"y":706.8},{"l":"b-3","x":616.1,"y":445.2},{"l":"b-3","x":716,"y":277.9},{"l":"b-3","x":816.1,"y":204.8},{"l":"b-3","x":916.1,"y":225.9},
{"l":"b-2","x":508.4,"y":704.2},{"l":"b-2","x":605.5,"y":448.3},{"l":"b-2","x":702.7,"y":281.2},{"l":"b-2","x":799.9,"y":203},{"l":"b-2","x":897.1,"y":214},
{"l":"b-1","x":500.8,"y":702.1},{"l":"b-1","x":595.1,"y":451.8},{"l":"b-1","x":689.3,"y":285.6},{"l":"b-1","x":783.6,"y":202.9},{"l":"b-1","x":877.9,"y":204.1},
{"l":"b0","x":493.6,"y":699.7},{"l":"b0","x":584.9,"y":455.9},{"l":"b0","x":676.3,"y":290.8},{"l":"b0","x":767.5,"y":204.4},{"l":"b0","x":858.9,"y":196.6},
{"l":"b1","x":486.6,"y":697.3},{"l":"b1","x":574.9,"y":460.5},{"l":"b1","x":663.2,"y":297.2},{"l":"b1","x":751.6,"y":207.3},{"l":"b1","x":839.9,"y":191.1},
{"l":"b2","x":480,"y":694.4},{"l":"b2","x":565.2,"y":465.1},{"l":"b2","x":650.3,"y":304.4},{"l":"b2","x":735.5,"y":211.9},{"l":"b2","x":820.7,"y":187.7},
{"l":"b3","x":473.5,"y":692.2},{"l":"b3","x":555.5,"y":470.6},{"l":"b3","x":637.5,"y":312.6},{"l":"b3","x":719.7,"y":217.8},{"l":"b3","x":801.7,"y":186.6},
{"l":"b4","x":467.4,"y":689.4},{"l":"b4","x":546.2,"y":476.1},{"l":"b4","x":624.9,"y":321.5},{"l":"b4","x":703.7,"y":225.2},{"l":"b4","x":782.6,"y":187.4},
{"l":"b5","x":461.5,"y":686.9},{"l":"b5","x":537,"y":482.2},{"l":"b5","x":612.5,"y":331.3},{"l":"b5","x":688,"y":234},{"l":"b5","x":763.5,"y":190.6},
{"l":"b6","x":456,"y":683.8},{"l":"b6","x":528.1,"y":488.5},{"l":"b6","x":600.3,"y":341.7},{"l":"b6","x":672.3,"y":244.3},{"l":"b6","x":744.5,"y":195.8},
{"l":"b7","x":450.8,"y":681.1},{"l":"b7","x":519.4,"y":495},{"l":"b7","x":588,"y":353.4},{"l":"b7","x":656.7,"y":256.1},{"l":"b7","x":725.3,"y":203.3},
{"l":"b8","x":445.7,"y":678.3},{"l":"b8","x":510.9,"y":501.9},{"l":"b8","x":576,"y":365.7},{"l":"b8","x":641.1,"y":269.3},{"l":"b8","x":706.3,"y":212.9},
{"l":"b9","x":441.1,"y":675.3},{"l":"b9","x":502.6,"y":509.3},{"l":"b9","x":564.1,"y":378.8},{"l":"b9","x":625.7,"y":283.8},{"l":"b9","x":687.2,"y":224.7},
{"l":"b10","x":436.7,"y":672.4},{"l":"b10","x":494.5,"y":516.8},{"l":"b10","x":552.3,"y":392.6},{"l":"b10","x":610.2,"y":299.8},{"l":"b10","x":668,"y":238.6},
{"l":"b11","x":432.7,"y":669.3},{"l":"b11","x":486.8,"y":524.2},{"l":"b11","x":540.9,"y":406.8},{"l":"b11","x":595,"y":316.8},{"l":"b11","x":649.1,"y":254.5},
{"l":"b12","x":429,"y":666},{"l":"b12","x":479.2,"y":532.1},{"l":"b12","x":529.5,"y":421.7},{"l":"b12","x":579.7,"y":335.4},{"l":"b12","x":630,"y":272.7},
{"l":"b13","x":425.6,"y":663.1},{"l":"b13","x":472,"y":540.1},{"l":"b13","x":518.2,"y":437.7},{"l":"b13","x":564.6,"y":355.3},{"l":"b13","x":610.9,"y":293.1},
{"l":"b14","x":422.7,"y":659.4},{"l":"b14","x":465,"y":548.1},{"l":"b14","x":507.2,"y":453.9},{"l":"b14","x":549.5,"y":376.4},{"l":"b14","x":591.8,"y":315.6},
{"l":"b15","x":420,"y":656.2},{"l":"b15","x":458.1,"y":556.7},{"l":"b15","x":496.4,"y":470.7},{"l":"b15","x":534.5,"y":398.7},{"l":"b15","x":572.8,"y":340.3},
{"l":"b16","x":417.7,"y":652.8},{"l":"b16","x":451.7,"y":565.1},{"l":"b16","x":485.7,"y":488.1},{"l":"b16","x":519.7,"y":422.1},{"l":"b16","x":553.7,"y":366.9},
{"l":"b17","x":415.9,"y":649.3},{"l":"b17","x":445.5,"y":573.6},{"l":"b17","x":475.2,"y":506.2},{"l":"b17","x":504.9,"y":446.9},{"l":"b17","x":534.6,"y":396.1},
{"l":"b18","x":414.6,"y":645.4},{"l":"b18","x":465,"y":524.3},{"l":"b18","x":515.5,"y":427},
{"l":"b19","x":413.6,"y":641.8},{"l":"b19","x":455,"y":543.2},{"l":"b19","x":496.4,"y":460.4},
{"l":"b20","x":413.2,"y":638.1},{"l":"b20","x":445.3,"y":562.1},{"l":"b20","x":477.4,"y":495.8},
{"l":"b21","x":413.3,"y":634},{"l":"b21","x":435.8,"y":581.3},{"l":"b21","x":458.3,"y":533.3},
{"l":"b22","x":414,"y":630},{"l":"b22","x":426.6,"y":600.7},{"l":"b22","x":439.2,"y":573.1},
{"l":"b23","x":415.4,"y":625.9},{"l":"b23","x":420.2,"y":615}
],
"axes":[
{"x":104,"y":168,"x2":104,"y2":613},
{"x":104,"y":168,"x2":86,"y2":163.6},{"x":104,"y":223.6,"x2":86,"y2":219.2},{"x":104,"y":279.3,"x2":86,"y2":274.9},{"x":104,"y":334.9,"x2":86,"y2":330.5},{"x":104,"y":390.5,"x2":86,"y2":386.1},{"x":104,"y":446.1,"x2":86,"y2":441.7},{"x":104,"y":501.8,"x2":86,"y2":497.4},{"x":104,"y":557.4,"x2":86,"y2":553},{"x":104,"y":613,"x2":86,"y2":608.6},
{"x":710,"y":822,"x2":693,"y2":825.5},{"x":634.3,"y":795.9,"x2":617.3,"y2":799.4},{"x":558.5,"y":769.8,"x2":541.5,"y2":773.3},{"x":482.8,"y":743.7,"x2":465.8,"y2":747.2},{"x":407,"y":717.5,"x2":390,"y2":721},{"x":331.3,"y":691.4,"x2":314.3,"y2":694.9},{"x":255.5,"y":665.3,"x2":238.5,"y2":668.8},{"x":179.8,"y":639.2,"x2":162.8,"y2":642.7},{"x":104,"y":613,"x2":87,"y2":616.5},
{"x":710,"y":822,"x2":725,"y2":830},{"x":808.4,"y":801.8,"x2":823.4,"y2":809.8},{"x":906.8,"y":781.5,"x2":921.8,"y2":789.5},{"x":1005.1,"y":761.3,"x2":1020.1,"y2":769.3},{"x":1103.5,"y":741,"x2":1118.5,"y2":749},{"x":1201.9,"y":720.8,"x2":1216.9,"y2":728.8},{"x":1300.3,"y":700.5,"x2":1315.3,"y2":708.5},{"x":1398.6,"y":680.3,"x2":1413.6,"y2":688.3},{"x":1497,"y":660,"x2":1512,"y2":668}
],
"zlabels":[
{"t":"40","x":78,"y":166},{"t":"35","x":78,"y":222},{"t":"30","x":78,"y":278},{"t":"25","x":78,"y":334},{"t":"20","x":78,"y":390},{"t":"15","x":78,"y":446},{"t":"10","x":78,"y":501},{"t":"5","x":78,"y":557},{"t":"0","x":78,"y":611}
],
"ticklabels":[
{"t":"256","x":60,"y":641},{"t":"224","x":136,"y":666},{"t":"192","x":213,"y":688},{"t":"160","x":287,"y":714},{"t":"128","x":362,"y":741},{"t":"96","x":444,"y":765},{"t":"64","x":519,"y":790},{"t":"32","x":596,"y":817},{"t":"0","x":677,"y":842},
{"t":"0","x":738,"y":845},{"t":"32","x":843,"y":827},{"t":"64","x":942,"y":806},{"t":"96","x":1041,"y":786},{"t":"128","x":1145,"y":766},{"t":"160","x":1242,"y":747},{"t":"192","x":1342,"y":728},{"t":"224","x":1440,"y":708},{"t":"256","x":1537,"y":687}
],
"axistitles":[
{"t":"Unit: pixel","x":333,"y":786},{"t":"Unit: pixel","x":1147,"y":806}
],
"ztitle":[{"t":"Unit: pixel","x":28,"y":394}],
"caption":[{"t":"(a)","x":788,"y":896}]
},
"encoding":{
"x":{"field":"x","type":"quantitative","scale":{"domain":[0,1568],"nice":false,"zero":false},"axis":null},
"y":{"field":"y","type":"quantitative","scale":{"domain":[933.2,0],"nice":false,"zero":false},"axis":null}
},
"layer":[
{"data":{"name":"walls"},"mark":{"type":"rule","color":"black","strokeWidth":2,"strokeDash":[2.5,8.5]},"encoding":{"x2":{"field":"x2"},"y2":{"field":"y2"}}},
{"data":{"name":"floor"},"mark":{"type":"rule","color":"black","strokeWidth":2.7},"encoding":{"x2":{"field":"x2"},"y2":{"field":"y2"}}},
{"data":{"name":"dome"},"mark":{"type":"area","color":"white","interpolate":"monotone"},"encoding":{"y2":{"field":"y2"}}},
{"data":{"name":"mesh"},"mark":{"type":"line","color":"black","strokeWidth":2.4,"interpolate":"cardinal","tension":0},"encoding":{"detail":{"field":"l"}}},
{"data":{"name":"axes"},"mark":{"type":"rule","color":"black","strokeWidth":2.2},"encoding":{"x2":{"field":"x2"},"y2":{"field":"y2"}}},
{"data":{"name":"zlabels"},"mark":{"type":"text","font":"Liberation Serif","fontSize":38,"align":"right","baseline":"middle","color":"#111"},"encoding":{"text":{"field":"t"}}},
{"data":{"name":"ticklabels"},"mark":{"type":"text","font":"Liberation Serif","fontSize":38,"align":"center","baseline":"middle","color":"#111"},"encoding":{"text":{"field":"t"}}},
{"data":{"name":"axistitles"},"mark":{"type":"text","font":"Liberation Serif","fontSize":62,"align":"center","baseline":"middle","color":"#111"},"encoding":{"text":{"field":"t"}}},
{"data":{"name":"ztitle"},"mark":{"type":"text","font":"Liberation Serif","fontSize":62,"align":"center","baseline":"middle","angle":270,"color":"#111"},"encoding":{"text":{"field":"t"}}},
{"data":{"name":"caption"},"mark":{"type":"text","font":"Liberation Serif","fontSize":76,"fontWeight":"bold","align":"center","baseline":"middle","color":"#111"},"encoding":{"text":{"field":"t"}}}
]
}
